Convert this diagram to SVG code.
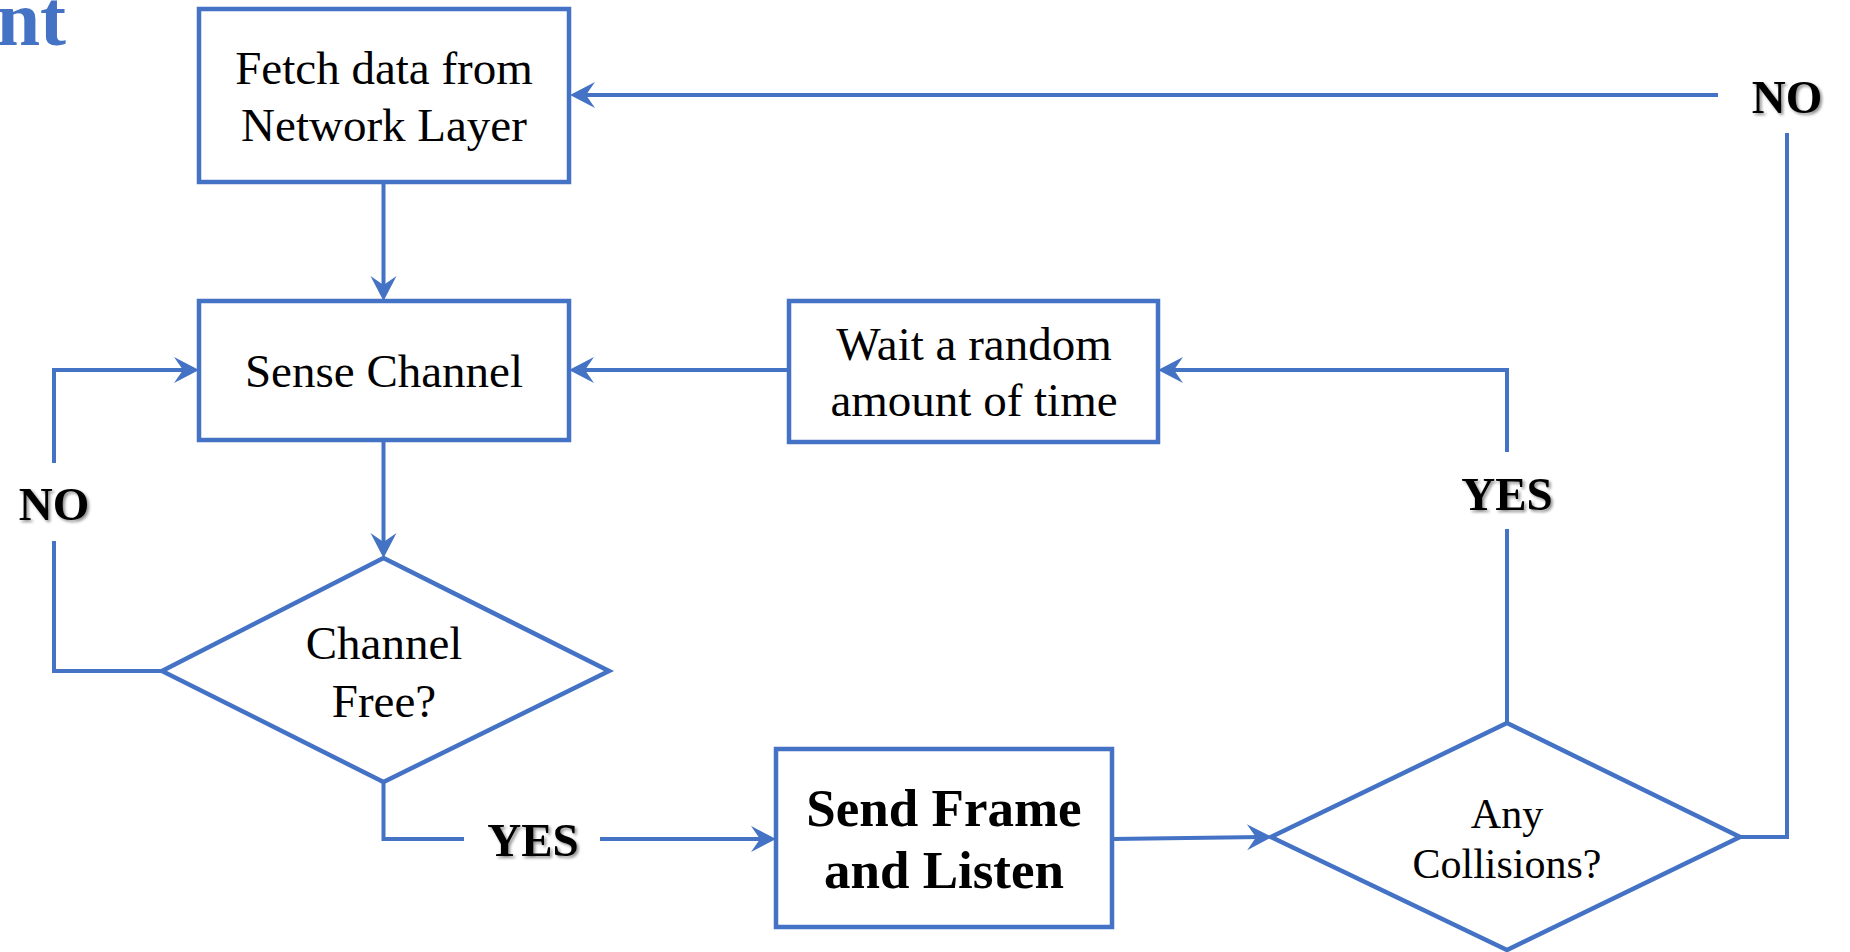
<svg xmlns="http://www.w3.org/2000/svg" width="1850" height="952" viewBox="0 0 1850 952">
<style>
.box{fill:#fff;stroke:#4472C4;stroke-width:4.5}
.conn{fill:none;stroke:#4472C4;stroke-width:4}
.t{font-family:"Liberation Serif","Times New Roman",serif;font-size:47px;fill:#000;text-anchor:middle}
.tc{font-family:"Liberation Serif","Times New Roman",serif;font-size:42px;fill:#000;text-anchor:middle}
.tb{font-family:"Liberation Serif","Times New Roman",serif;font-size:53px;font-weight:bold;fill:#000;text-anchor:middle}
.lbl{font-family:"Liberation Serif","Times New Roman",serif;font-size:47px;font-weight:bold;fill:#000;text-anchor:middle;filter:url(#sh)}
.title{font-family:"Liberation Serif","Times New Roman",serif;font-size:78px;font-weight:bold;fill:#4472C4;text-anchor:end}
</style>
<defs>
<marker id="arr" markerUnits="userSpaceOnUse" viewBox="-36 -15 38 30" markerWidth="38" markerHeight="30" refX="-10" refY="0" orient="auto">
<path d="M0,0 L-25,-13 L-16,0 L-25,13 Z" fill="#4472C4"/>
</marker>
<filter id="sh" x="-20%" y="-20%" width="140%" height="140%">
<feDropShadow dx="2" dy="2" stdDeviation="1.5" flood-color="#000" flood-opacity="0.45"/>
</filter>
</defs>
<rect width="1850" height="952" fill="#fff"/>
<text class="title" x="66" y="45">nt</text>

<g id="connectors">
<path class="conn" d="M383.5,182 V291" marker-end="url(#arr)"/>
<path class="conn" d="M383.5,440 V548" marker-end="url(#arr)"/>
<path class="conn" d="M162,671 H54 V541"/>
<path class="conn" d="M54,463 V370 H189" marker-end="url(#arr)"/>
<path class="conn" d="M383.5,782 V839 H464"/>
<path class="conn" d="M600,839 H766" marker-end="url(#arr)"/>
<path class="conn" d="M1112,839 L1262,837.1" marker-end="url(#arr)"/>
<path class="conn" d="M1507,723 V529"/>
<path class="conn" d="M1507,452 V370 H1168" marker-end="url(#arr)"/>
<path class="conn" d="M789,370 H579" marker-end="url(#arr)"/>
<path class="conn" d="M1740,837 H1787 V133"/>
<path class="conn" d="M1718,95 H580" marker-end="url(#arr)"/>
</g>

<g id="node-fetch">
<rect class="box" x="199" y="9" width="370" height="173"/>
<text class="t" x="384" y="84">Fetch data from</text>
<text class="t" x="384" y="141">Network Layer</text>
</g>
<g id="node-sense">
<rect class="box" x="199" y="301" width="370" height="139"/>
<text class="t" x="384" y="387">Sense Channel</text>
</g>
<g id="node-channel-free">
<polygon class="box" points="383.5,558 609,671 383.5,782 162,671"/>
<text class="t" x="384" y="659">Channel</text>
<text class="t" x="384" y="717">Free?</text>
</g>
<g id="node-wait">
<rect class="box" x="789" y="301" width="369" height="141"/>
<text class="t" x="974" y="360">Wait a random</text>
<text class="t" x="974" y="416">amount of time</text>
</g>
<g id="node-send">
<rect class="box" x="776" y="749" width="336" height="178"/>
<text class="tb" x="944" y="826">Send Frame</text>
<text class="tb" x="944" y="888">and Listen</text>
</g>
<g id="node-collisions">
<polygon class="box" points="1507,723 1740,837 1507,950 1271,837"/>
<text class="tc" x="1507" y="828">Any</text>
<text class="tc" x="1507" y="878">Collisions?</text>
</g>
<g id="labels">
<text class="lbl" x="54" y="520">NO</text>
<text class="lbl" x="533" y="856">YES</text>
<text class="lbl" x="1507" y="510">YES</text>
<text class="lbl" x="1787" y="113">NO</text>
</g>
</svg>
